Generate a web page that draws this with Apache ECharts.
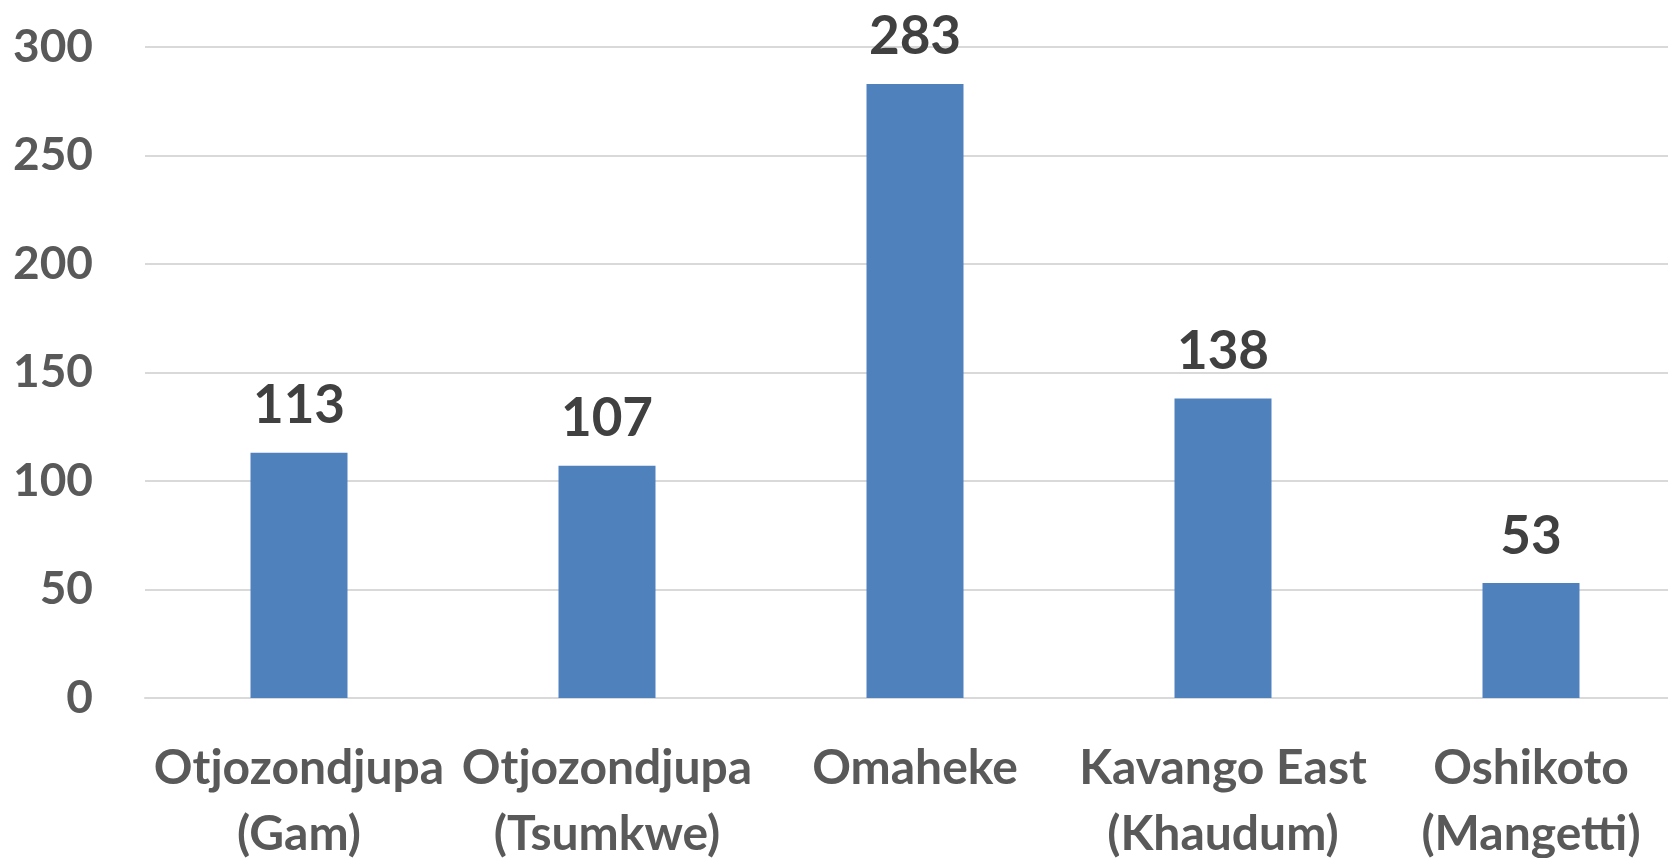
<!DOCTYPE html>
<html>
<head>
<meta charset="utf-8">
<script src="https://cdn.jsdelivr.net/npm/echarts@6/dist/echarts.min.js"></script>
<style>
  html, body { margin: 0; padding: 0; background: #fff; }
  #chart { width: 1668px; height: 858px; }
</style>
</head>
<body>
<div id="chart"></div>
<script>
var categories = ['Otjozondjupa\n(Gam)', 'Otjozondjupa\n(Tsumkwe)', 'Omaheke', 'Kavango East\n(Khaudum)', 'Oshikoto\n(Mangetti)'];
var values = [113, 107, 283, 138, 53];
var yTicks = [0, 50, 100, 150, 200, 250, 300];

var chartDom = document.getElementById('chart');
var myChart = echarts.init(chartDom);
var option;

option = {
    animation: false,
    textStyle: { fontFamily: 'Lato' },
    grid: {
        left: 145,
        top: 47,
        width: 1540,
        height: 651,
        containLabel: false,
        outerBoundsMode: 'none'
    },
    xAxis: {
        type: 'category',
        data: categories,
        axisTick: { show: false },
        axisLine: { lineStyle: { color: '#d9d9d9', width: 2 } },
        axisLabel: {
            color: '#595959',
            fontSize: 48,
            fontWeight: 'bold',
            fontFamily: 'Lato',
            lineHeight: 66,
            margin: 38,
            interval: 0
        }
    },
    yAxis: {
        type: 'value',
        min: yTicks[0],
        max: yTicks[yTicks.length - 1],
        interval: 50,
        axisLine: { show: false },
        axisTick: { show: false },
        splitLine: { lineStyle: { color: '#d9d9d9', width: 2 } },
        axisLabel: {
            color: '#595959',
            fontSize: 46,
            fontWeight: 'bold',
            fontFamily: 'Lato',
            margin: 52
        }
    },
    series: [
        {
            type: 'bar',
            data: values,
            barWidth: 97,
            itemStyle: { color: '#4f81bd' },
            label: {
                show: true,
                position: 'top',
                distance: 20,
                color: '#404040',
                fontSize: 53,
                fontWeight: 'bold',
                fontFamily: 'Lato'
            }
        }
    ]
};
option && myChart.setOption(option);
</script>
</body>
</html>
